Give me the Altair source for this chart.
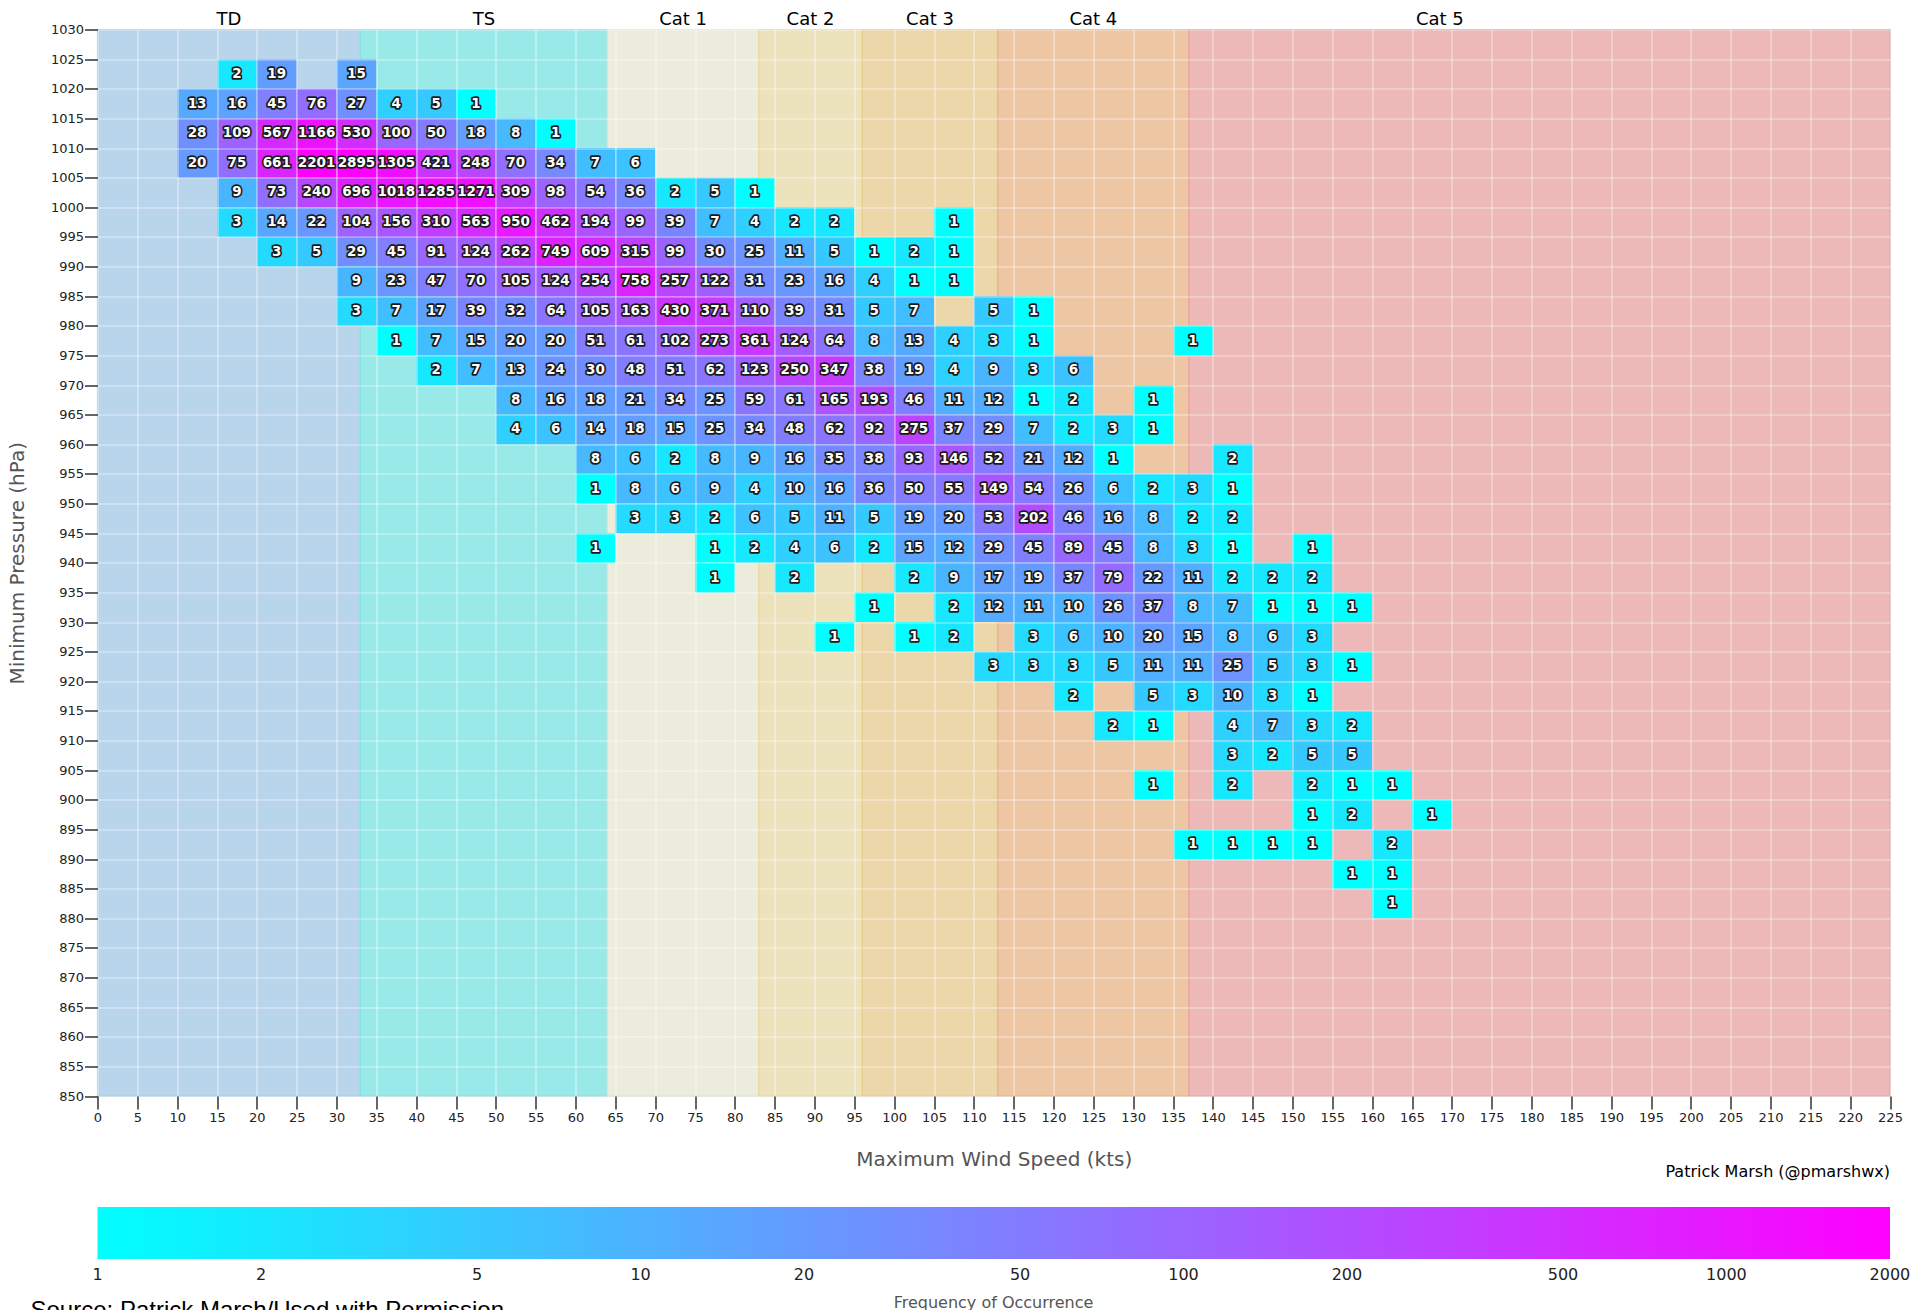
import altair as alt
import pandas as pd

# ---------------- data ----------------
# Each row: lower bound of 5-hPa pressure bin, lower bound of first 5-kt wind bin, counts (None = empty)
PRESSURE_ROWS = [1020, 1015, 1010, 1005, 1000, 995, 990, 985, 980, 975, 970, 965, 960,
                 955, 950, 945, 940, 935, 930, 925, 920, 915, 910, 905, 900, 895, 890, 885, 880]
ROW_START_WIND = [15, 10, 10, 10, 15, 15, 20, 30, 30, 35, 40, 50, 50,
                  60, 60, 65, 60, 75, 95, 90, 110, 120, 125, 140, 130, 150, 135, 155, 160]
ROW_COUNTS = [
    [2, 19, None, 15],
    [13, 16, 45, 76, 27, 4, 5, 1],
    [28, 109, 567, 1166, 530, 100, 50, 18, 8, 1],
    [20, 75, 661, 2201, 2895, 1305, 421, 248, 70, 34, 7, 6],
    [9, 73, 240, 696, 1018, 1285, 1271, 309, 98, 54, 36, 2, 5, 1],
    [3, 14, 22, 104, 156, 310, 563, 950, 462, 194, 99, 39, 7, 4, 2, 2, None, None, 1],
    [3, 5, 29, 45, 91, 124, 262, 749, 609, 315, 99, 30, 25, 11, 5, 1, 2, 1],
    [9, 23, 47, 70, 105, 124, 254, 758, 257, 122, 31, 23, 16, 4, 1, 1],
    [3, 7, 17, 39, 32, 64, 105, 163, 430, 371, 110, 39, 31, 5, 7, None, 5, 1],
    [1, 7, 15, 20, 20, 51, 61, 102, 273, 361, 124, 64, 8, 13, 4, 3, 1, None, None, None, 1],
    [2, 7, 13, 24, 30, 48, 51, 62, 123, 250, 347, 38, 19, 4, 9, 3, 6],
    [8, 16, 18, 21, 34, 25, 59, 61, 165, 193, 46, 11, 12, 1, 2, None, 1],
    [4, 6, 14, 18, 15, 25, 34, 48, 62, 92, 275, 37, 29, 7, 2, 3, 1],
    [8, 6, 2, 8, 9, 16, 35, 38, 93, 146, 52, 21, 12, 1, None, None, 2],
    [1, 8, 6, 9, 4, 10, 16, 36, 50, 55, 149, 54, 26, 6, 2, 3, 1],
    [3, 3, 2, 6, 5, 11, 5, 19, 20, 53, 202, 46, 16, 8, 2, 2],
    [1, None, None, 1, 2, 4, 6, 2, 15, 12, 29, 45, 89, 45, 8, 3, 1, None, 1],
    [1, None, 2, None, None, 2, 9, 17, 19, 37, 79, 22, 11, 2, 2, 2],
    [1, None, 2, 12, 11, 10, 26, 37, 8, 7, 1, 1, 1],
    [1, None, 1, 2, None, 3, 6, 10, 20, 15, 8, 6, 3],
    [3, 3, 3, 5, 11, 11, 25, 5, 3, 1],
    [2, None, 5, 3, 10, 3, 1],
    [2, 1, None, 4, 7, 3, 2],
    [3, 2, 5, 5],
    [1, None, 2, None, 2, 1, 1],
    [1, 2, None, 1],
    [1, 1, 1, 1, None, 2],
    [1, 1],
    [1],
]

BAND_NAMES = ["TD", "TS", "Cat 1", "Cat 2", "Cat 3", "Cat 4", "Cat 5"]
BAND_START = [0, 33, 64, 83, 96, 113, 137]
BAND_END = [33, 64, 83, 96, 113, 137, 200]      # category range (label centred on it)
BAND_SHADE_END = [33, 64, 83, 96, 113, 137, 225]  # shading extent
BAND_COLORS = ["#b9d5ec", "#99e9e8", "#ececdc", "#ece3bc", "#ecd7ab", "#edc7a4", "#ecb8b8"]
BAND_EDGES = ["#a6cbea", "#84e3e1", "#e3e3c6", "#e8d8a0", "#e9c98c", "#eab283", "#e9a3a3"]

LEGEND_VALUES = [1, 2, 5, 10, 20, 50, 100, 200, 500, 1000, 2000]
COLOR_DOMAIN = [0.9995, 2001]   # ~[1, 2000]
X_TICKS = list(range(0, 226, 5))
Y_TICKS = list(range(850, 1031, 5))

BIN = 5

# ---------------- tables ----------------
records = []
for p, s, counts in zip(PRESSURE_ROWS, ROW_START_WIND, ROW_COUNTS):
    for i, c in enumerate(counts):
        if c is not None:
            records.append({"wind": s + BIN * i, "pressure": p, "count": c})
cells = pd.DataFrame(records)
bands = pd.DataFrame({"name": BAND_NAMES, "start": BAND_START, "end": BAND_END,
                      "shade_end": BAND_SHADE_END})

W, H = 1792.5, 1066.5
FONT = "DejaVu Sans"

xs = alt.Scale(domain=[0, 225], nice=False, zero=False)
ys = alt.Scale(domain=[850, 1030], nice=False, zero=False)

x_axis = alt.Axis(
    values=X_TICKS, format="d", title="Maximum Wind Speed (kts)", titleX=W / 2, titleY=63,
    titleBaseline="middle", titleFontSize=20, titleFontWeight="normal", titleColor="#555",
    labelFontSize=13, labelColor="#222", labelPadding=2, labelOverlap=False, labelFlush=False,
    tickSize=13, tickWidth=1.5, tickColor="#333", domain=False,
    grid=True, gridColor="white", gridOpacity=0.55, gridWidth=1.2, zindex=1,
)
y_axis = alt.Axis(
    values=Y_TICKS, format="d", title="Minimum Pressure (hPa)", titleX=-80, titleY=H / 2,
    titleAngle=270, titleBaseline="middle", titleAlign="center", titleFontSize=20,
    titleFontWeight="normal", titleColor="#555", labelFontSize=13, labelColor="#222",
    labelPadding=1, labelOverlap=False,
    tickSize=13, tickWidth=1.5, tickColor="#333", domain=False,
    grid=True, gridColor="white", gridOpacity=0.55, gridWidth=1.2, zindex=1,
)


def X(field):
    return alt.X(field, type="quantitative", scale=xs, axis=x_axis)


def Y(field):
    return alt.Y(field, type="quantitative", scale=ys, axis=y_axis)


band_rects = alt.Chart(bands).mark_rect(strokeWidth=1.2).encode(
    x=X("start"), x2="shade_end",
    y=alt.value(0), y2=alt.value(H),
    color=alt.Color("name:N", scale=alt.Scale(domain=BAND_NAMES, range=BAND_COLORS), legend=None),
    stroke=alt.Stroke("name:N", scale=alt.Scale(domain=BAND_NAMES, range=BAND_EDGES), legend=None),
)

band_labels = alt.Chart(bands).transform_calculate(
    mid="(datum.start + datum.end) / 2"
).mark_text(fontSize=18, font=FONT, color="black", baseline="middle").encode(
    x=X("mid"), y=alt.value(-10), text="name:N"
)

heat = alt.Chart(cells).transform_calculate(
    wind2="datum.wind + 5", pressure2="datum.pressure + 5"
).mark_rect().encode(
    x=X("wind"), x2="wind2:Q",
    y=Y("pressure"), y2="pressure2:Q",
    color=alt.Color(
        "count:Q",
        scale=alt.Scale(type="log", domain=COLOR_DOMAIN, range=["#00ffff", "#ff00ff"],
                        interpolate="rgb"),
        legend=alt.Legend(
            orient="none", legendX=0, legendY=1177.5, direction="horizontal",
            gradientLength=W, gradientThickness=52, gradientStrokeWidth=0,
            values=LEGEND_VALUES, format="d",
            labelFontSize=16, labelColor="#222", labelOffset=8, labelAlign="center",
            labelOverlap=False, labelLimit=0,
            title="Frequency of Occurrence", titleOrient="bottom", titleAnchor="middle",
            titleFontSize=16, titleFontWeight="normal", titleColor="#555", titlePadding=12,
            titleLimit=0, padding=0,
        ),
    ),
)

cell_base = alt.Chart(cells).transform_calculate(
    xc="datum.wind + 2.5", yc="datum.pressure + 2.5"
)
halo = cell_base.mark_text(
    font=FONT, fontWeight="bold", fontSize=13.5, fill="#1a1a1a", stroke="#1a1a1a",
    strokeWidth=3.4, strokeJoin="round", baseline="middle",
).encode(x=X("xc"), y=Y("yc"), text=alt.Text("count:Q", format="d"))
labels = cell_base.mark_text(
    font=FONT, fontWeight="bold", fontSize=13.5, fill="white", baseline="middle",
).encode(x=X("xc"), y=Y("yc"), text=alt.Text("count:Q", format="d"))

credit_df = pd.DataFrame({"t": ["Patrick Marsh (@pmarshwx)"]})
credit = alt.Chart(credit_df).mark_text(
    font=FONT, fontSize=16, color="black", align="right", baseline="middle"
).encode(x=alt.value(W), y=alt.value(1142.5), text="t:N")

source_df = pd.DataFrame({"t": ["Source: Patrick Marsh/Used with Permission"]})
source = alt.Chart(source_df).mark_text(
    font="Liberation Sans", fontSize=24, color="black", align="left", baseline="alphabetic"
).encode(x=alt.value(-67), y=alt.value(1288.5), text="t:N")

chart = alt.layer(
    band_rects, heat, halo, labels, band_labels, credit, source
).resolve_scale(color="independent", stroke="independent").properties(
    width=W, height=H,
    autosize=alt.AutoSizeParams(type="none"),
    padding={"left": 97.5, "top": 29.5, "right": 21, "bottom": 214},
).configure_view(stroke=None).configure(font=FONT, background="white")

chart.save("out.html", embed_options={"renderer": "svg", "actions": False})
